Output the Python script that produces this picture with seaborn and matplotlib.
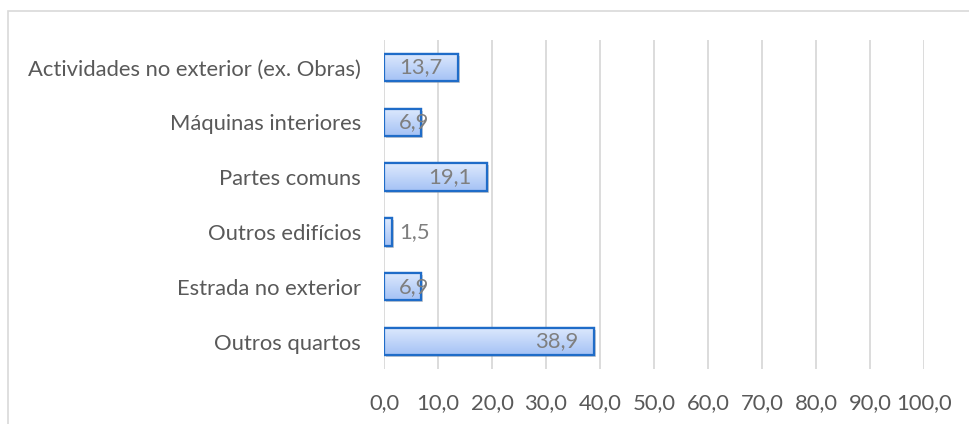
import matplotlib
matplotlib.use("Agg")
import matplotlib.pyplot as plt
import seaborn as sns
import numpy as np
import pandas as pd
from matplotlib.patches import Rectangle

categories = ["Actividades no exterior (ex. Obras)", "Máquinas interiores", "Partes comuns",
              "Outros edifícios", "Estrada no exterior", "Outros quartos"]
values = [13.7, 6.9, 19.1, 1.5, 6.9, 38.9]
xticks = [0, 10, 20, 30, 40, 50, 60, 70, 80, 90, 100]

sns.set_theme(style="white")
plt.rcParams['font.family'] = ['Lato', 'DejaVu Sans']

W, H = 969, 424
FS = 15.8
fig = plt.figure(figsize=(W / 100, H / 100), dpi=100)
ax = fig.add_axes([384 / W, 55 / H, (924 - 384) / W, 329 / H])

df = pd.DataFrame({"cat": categories, "val": values})
sns.barplot(data=df, y="cat", x="val", orient="h", ax=ax, width=0.5,
            color="#bcd3fa", edgecolor="#1f6cc8", linewidth=1.6, zorder=3)

ax.set_xlim(0, 100)
ylim = ax.get_ylim()
ax.set_xticks(xticks)
ax.set_xticklabels([f"{t:.1f}".replace(".", ",") for t in xticks])
ax.set_xlabel("")
ax.set_ylabel("")
for s in ax.spines.values():
    s.set_visible(False)
ax.grid(axis="x", color="#d9d9d9", linewidth=1.3, zorder=0)
ax.set_axisbelow(True)
ax.tick_params(axis="both", length=0, labelsize=FS, colors="#595959")
ax.tick_params(axis="x", pad=17)
ax.tick_params(axis="y", pad=16.5)

# gradient fill + shadow on bars
grad = np.linspace(0, 1, 64).reshape(-1, 1)
cmap = matplotlib.colors.LinearSegmentedColormap.from_list("g", ["#dde9fd", "#a5c2f5"])
bars = list(ax.patches)
for p in bars:
    x0, y0 = p.get_x(), p.get_y()
    w, h = p.get_width(), p.get_height()
    ytop, ybot = min(y0, y0 + h), max(y0, y0 + h)
    shadow = Rectangle((x0, y0), w, h, facecolor="#9a9a9a", edgecolor="none", alpha=0.45, zorder=2.5)
    ax.add_patch(shadow)
    shadow.set_transform(matplotlib.transforms.offset_copy(ax.transData, fig=fig, x=2, y=-2, units="dots"))
    im = ax.imshow(grad, extent=[x0, x0 + w, ybot, ytop], aspect="auto", cmap=cmap,
                   origin="upper", zorder=3.5, vmin=0, vmax=1, interpolation="bilinear")
    im.set_clip_path(p)
    ax.add_patch(Rectangle((x0, y0), w, h, fill=False, edgecolor="#1f6cc8", linewidth=1.6, zorder=4))

ax.set_xlim(0, 100)
ax.set_ylim(ylim)

# value labels
px_per_unit = (924 - 384) / 100
for i, v in enumerate(values):
    txt = f"{v:.1f}".replace(".", ",")
    if v * px_per_unit > 63:
        ax.annotate(txt, (v, i), xytext=(-16 * 0.72, 0), textcoords="offset points",
                    ha="right", va="center", fontsize=FS, color="#7f7f7f", zorder=5)
    else:
        ax.annotate(txt, (0, i), xytext=(15 * 0.72, 0), textcoords="offset points",
                    ha="left", va="center", fontsize=FS, color="#7f7f7f", zorder=5)

# outer chart border
fig.patches.append(Rectangle((8 / W, -0.1), 1.2, (H - 11) / H + 0.1, transform=fig.transFigure,
                             fill=False, edgecolor="#d9d9d9", linewidth=1.2, zorder=0))

fig.savefig("out.png", dpi=100)
